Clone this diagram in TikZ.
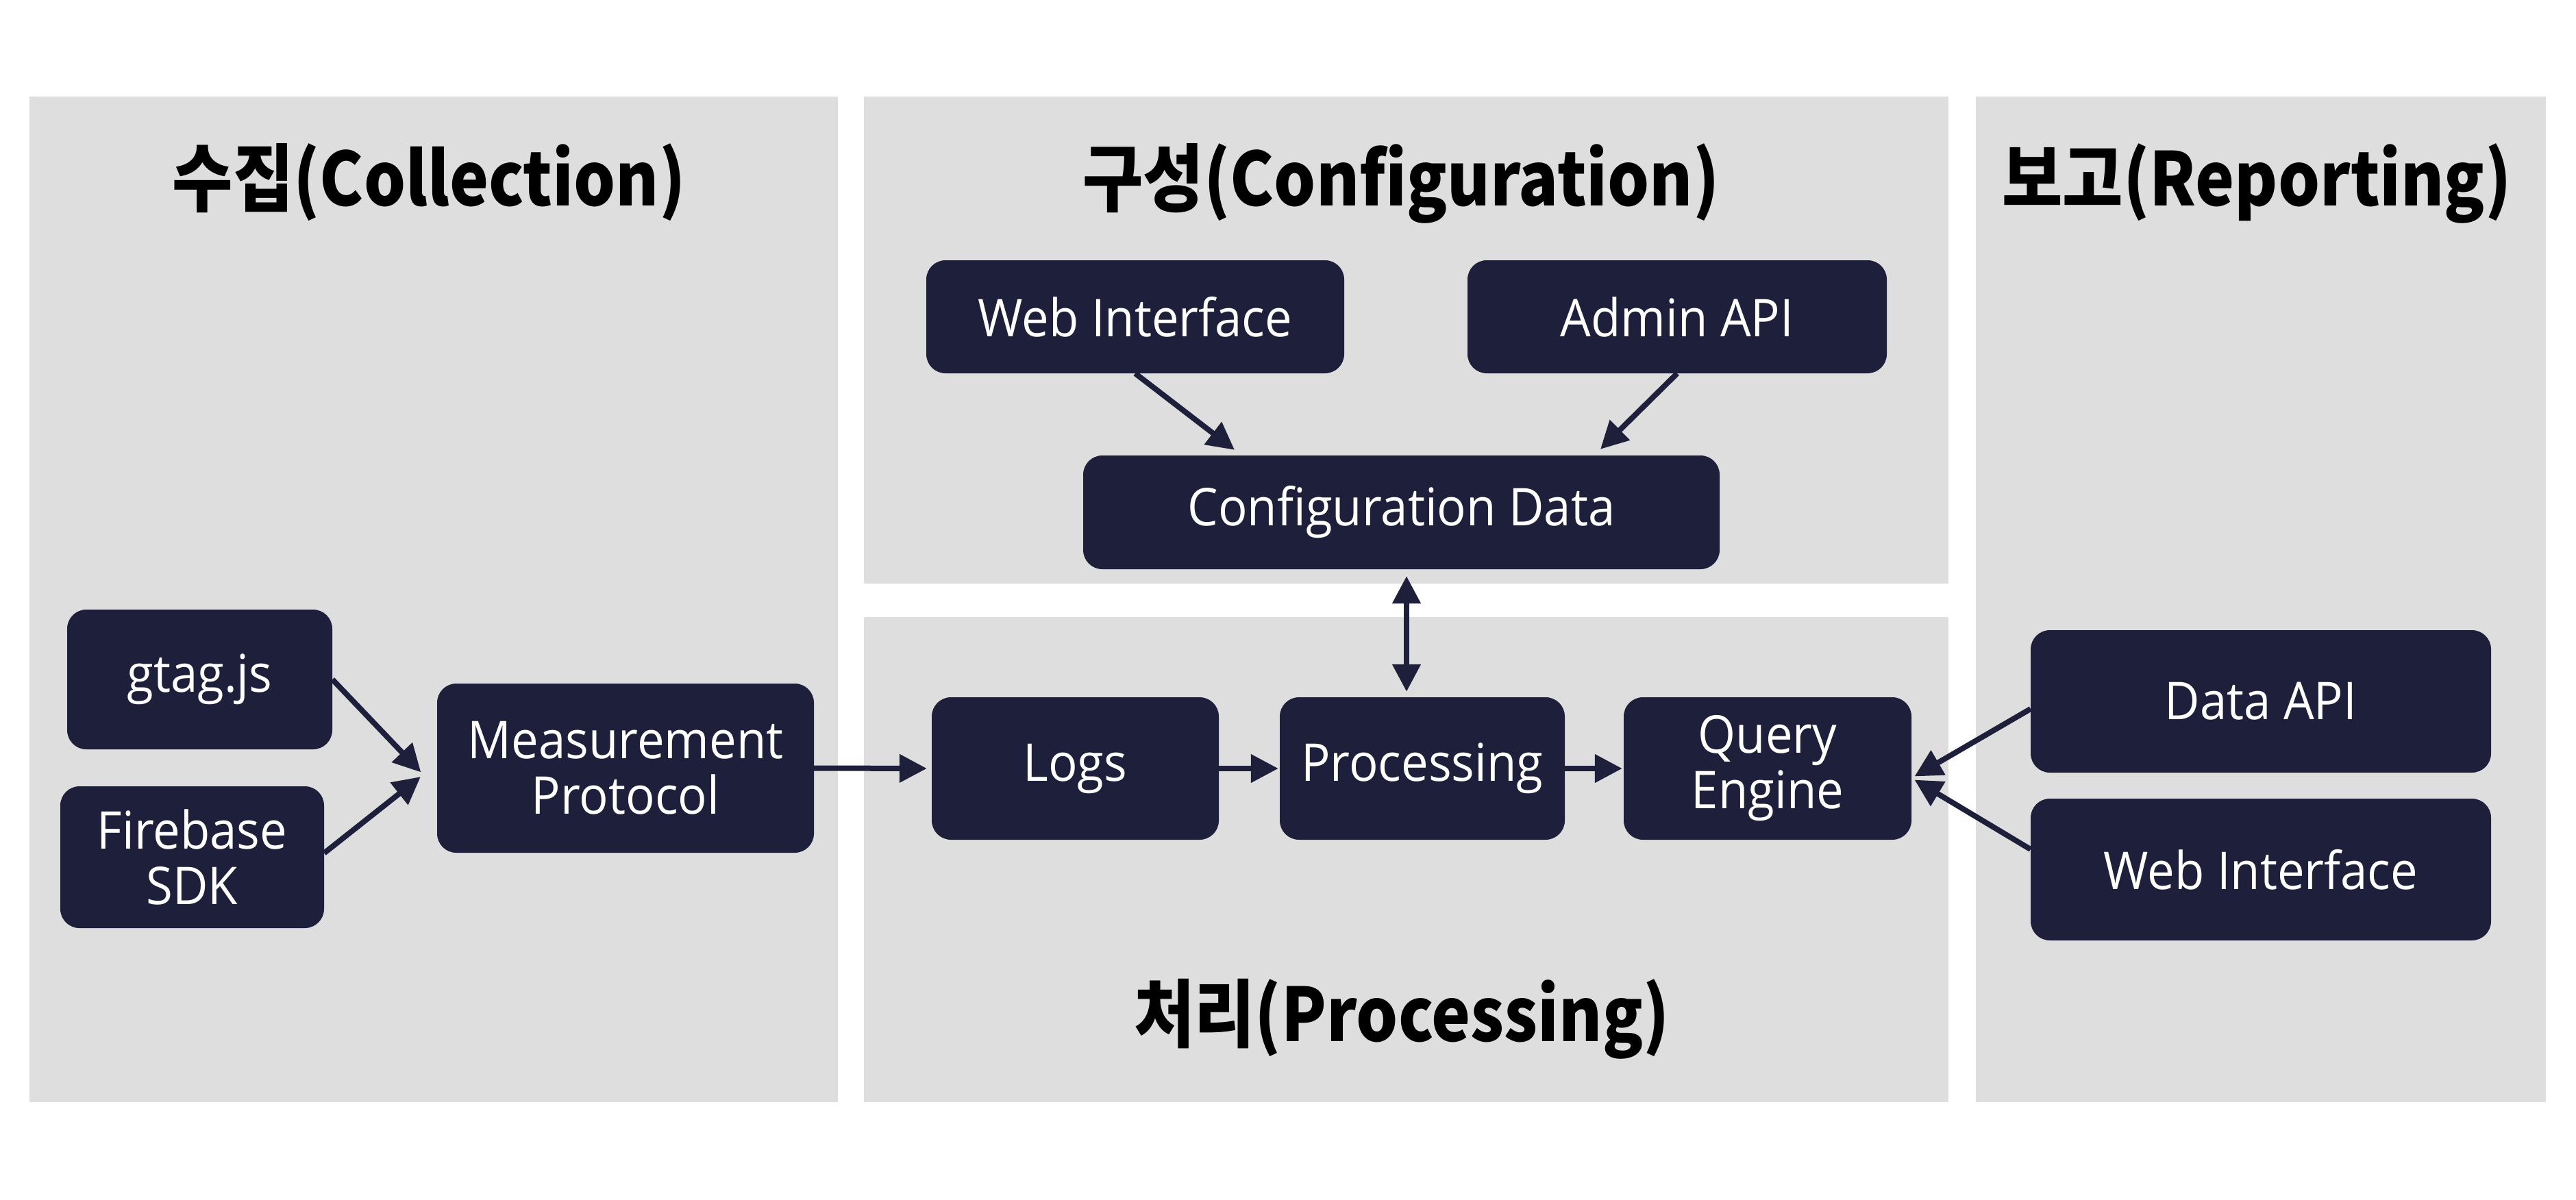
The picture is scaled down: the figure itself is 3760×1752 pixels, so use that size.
\documentclass[tikz,border=0pt]{standalone}
\usepackage{fontspec}
\setmainfont{Open Sans}[FakeStretch=0.93]
\newfontfamily\krfont{Noto Sans CJK KR}[FakeStretch=0.89]
\usetikzlibrary{arrows.meta}
\definecolor{navy}{HTML}{1E1F3B}
\definecolor{panelgray}{HTML}{DEDEDE}
\begin{document}
\begin{tikzpicture}[x=1pt,y=-1pt,
  box/.style={draw=none, fill=navy, rounded corners=28pt, text=white, align=center, inner sep=0pt, font=\fontsize{76}{81}\selectfont},
  panel/.style={fill=panelgray, draw=none},
  paneltitle/.style={anchor=base, inner sep=0pt, font=\krfont\bfseries\fontsize{108}{110}\selectfont},
  arr/.style={draw=navy, line width=8pt, -{Triangle[length=40pt,width=40pt]}},
  biarr/.style={draw=navy, line width=8pt, {Triangle[length=40pt,width=40pt]}-{Triangle[length=40pt,width=40pt]}},
]
\useasboundingbox (0,0) rectangle (3760,1752);
\fill[white] (0,0) rectangle (3760,1752);
% panels
\fill[panel] (43,141) rectangle (1223,1609);
\fill[panel] (1261,141) rectangle (2844,852);
\fill[panel] (1261,901) rectangle (2844,1609);
\fill[panel] (2884,141) rectangle (3716,1609);
% titles
\node[paneltitle] (t1) at (626,301) {수집(Collection)};
\node[paneltitle] (t2) at (2045,301) {구성(Configuration)};
\node[paneltitle] (t3) at (2046,1520) {처리(Processing)};
\node[paneltitle] (t4) at (3294,301) {보고(Reporting)};
% boxes
\node[box, minimum width=387pt, minimum height=204pt] (gtag) at (291.5,992) {gtag.js};
\node[box, minimum width=385pt, minimum height=207pt] (fb) at (280.5,1251.5) {Firebase\\SDK};
\node[box, minimum width=550pt, minimum height=247pt] (mp) at (913,1121.5) {Measurement\\Protocol};
\node[box, minimum width=610pt, minimum height=165pt] (webcfg) at (1657,462.5) {Web Interface};
\node[box, minimum width=612pt, minimum height=165pt] (admin) at (2448,462.5) {Admin API};
\node[box, minimum width=929pt, minimum height=166pt] (cd) at (2045.5,748) {Configuration Data};
\node[box, minimum width=419pt, minimum height=208pt] (logs) at (1569.5,1122) {Logs};
\node[box, minimum width=416pt, minimum height=208pt] (proc) at (2076,1122) {Processing};
\node[box, minimum width=420pt, minimum height=208pt] (qe) at (2580,1122) {Query\\Engine};
\node[box, minimum width=672pt, minimum height=208pt] (dapi) at (3300,1024) {Data API};
\node[box, minimum width=672pt, minimum height=207pt] (webrep) at (3300,1269.5) {Web Interface};
% connectors
\draw[arr, shorten >=5pt] (gtag.east) -- ([xshift=-20pt,yshift=-9.5pt]mp.west);
\draw[arr, shorten >=5pt] ([yshift=6pt]fb.east) -- ([xshift=-20pt,yshift=-9.5pt]mp.west);
\draw[arr, shorten >=7pt] (mp.east) -- (logs.west);
\draw[arr, shorten >=2pt] (logs.east) -- (proc.west);
\draw[arr, shorten >=2pt] (proc.east) -- (qe.west);
\draw[arr] (webcfg.south) -- ([xshift=-243.5pt,yshift=8pt]cd.north);
\draw[arr] (admin.south) -- ([xshift=290.5pt,yshift=9pt]cd.north);
\draw[biarr, shorten <=10pt, shorten >=8pt] ([xshift=7.5pt]cd.south) -- ([xshift=7.5pt]cd.south |- proc.north);
\draw[arr, shorten >=5pt] ([yshift=-11pt]dapi.west) -- ([yshift=-14pt]qe.east);
\draw[arr, shorten >=5pt] ([yshift=29.5pt]webrep.west) -- ([yshift=-14pt]qe.east);
\end{tikzpicture}
\end{document}
